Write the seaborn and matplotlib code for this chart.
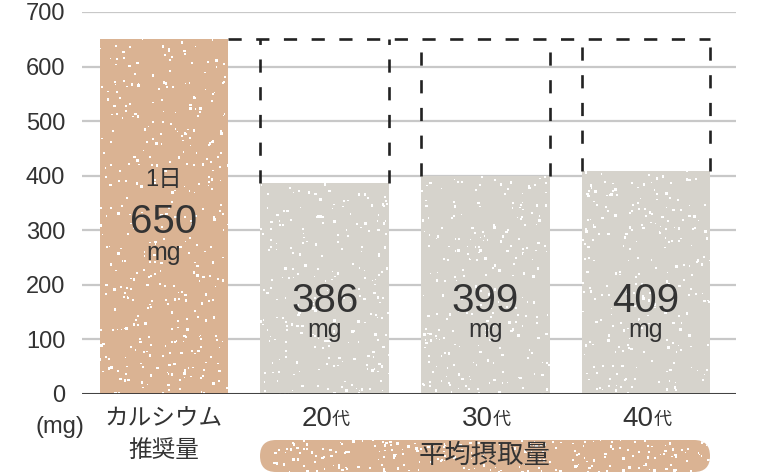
import numpy as np
import pandas as pd
import matplotlib
matplotlib.use("Agg")
import matplotlib.pyplot as plt
import seaborn as sns
from matplotlib.patches import FancyBboxPatch

# data
categories = ["カルシウム\n推奨量", "20代", "30代", "40代"]
values = [650, 386, 399, 409]
recommended = 650
bar_colors = ["#dab393", "#d6d3cc", "#d6d3cc", "#d6d3cc"]
yticks = [0, 100, 200, 300, 400, 500, 600, 700]

df = pd.DataFrame({"cat": categories, "mg": values})

sns.set_theme(style="white")
plt.rcParams["font.family"] = ["Liberation Sans", "Noto Sans CJK JP", "DejaVu Sans"]
txt = "#333333"

fig = plt.figure(figsize=(7.62, 4.74), dpi=100)
ax = fig.add_axes([82 / 762, 80 / 474, 654 / 762, 382 / 474])

sns.barplot(data=df, x="cat", y="mg", hue="cat", palette=bar_colors,
            saturation=1, width=0.8, legend=False, ax=ax, zorder=2, linewidth=0)

ax.set_ylim(0, 700)
ax.set_xlim(-0.51, 3.56)
ax.set_yticks(yticks)
ax.set_yticklabels([str(t) for t in yticks], fontsize=17, color=txt)
ax.tick_params(axis="y", length=0, pad=12)
ax.set_xticks([])
ax.set_xlabel("")
ax.set_ylabel("")
for s in ax.spines.values():
    s.set_visible(False)
ax.yaxis.grid(True, color="#c8c8c8", linewidth=1.6, zorder=0)
ax.set_axisbelow(True)
ax.axhline(0, color="#333333", linewidth=2, zorder=3)

# speckle texture on bars
rng = np.random.default_rng(3)
for p in ax.patches:
    x0, w, h = p.get_x(), p.get_width(), p.get_height()
    n = int(h * 0.6)
    px = x0 + rng.random(n) * w
    py = rng.random(n) * h
    sc = ax.scatter(px, py, s=rng.random(n) * 3 + 0.6, marker="s",
                    color="white", linewidths=0, zorder=2.5)
    sc.set_clip_path(p)

# dashed recommended outlines
bars = ax.patches
dash = (0, (5, 5.5))
right_end = bars[-1].get_x() + bars[-1].get_width()
ax.plot([bars[0].get_x() + bars[0].get_width(), right_end],
        [recommended, recommended], color="#222222", lw=1.9, ls=dash, zorder=4)
for p in bars[1:]:
    for xe in (p.get_x(), p.get_x() + p.get_width()):
        ax.plot([xe, xe], [p.get_height(), recommended], color="#222222",
                lw=1.9, ls=dash, zorder=4)

# labels inside bars
ax.text(0, 392, "1日", ha="center", va="center", fontsize=17, color=txt, zorder=5)
ax.text(0, 315, "650", ha="center", va="center", fontsize=29, color=txt, zorder=5)
ax.text(0, 259, "mg", ha="center", va="center", fontsize=18, color=txt, zorder=5)
for i, v in enumerate(values[1:], start=1):
    ax.text(i, 170, str(v), ha="center", va="center", fontsize=29, color=txt, zorder=5)
    ax.text(i, 117, "mg", ha="center", va="center", fontsize=18, color=txt, zorder=5)

# x labels
trans = ax.get_xaxis_transform()
ax.text(0, -0.066, "カルシウム", ha="center", va="center", fontsize=17,
        color=txt, transform=trans)
ax.text(0, -0.15, "推奨量", ha="center", va="center", fontsize=17,
        color=txt, transform=trans)
for i, c in enumerate(categories[1:], start=1):
    t = ax.text(i - 0.05, -0.066, c[:-1], ha="center", va="center",
                fontsize=20, color=txt, transform=trans)
    ax.annotate(c[-1], xy=(1, 0.12), xycoords=t, ha="left", va="bottom",
                fontsize=13, color=txt)
ax.text(-0.034, -0.086, "(mg)", ha="center", va="center", fontsize=17,
        color=txt, transform=ax.transAxes)

# pill below age groups
ov = fig.add_axes([0, 0, 1, 1], zorder=-1)
ov.set_xlim(0, 762)
ov.set_ylim(0, 474)
ov.axis("off")
pill = FancyBboxPatch((260, 2), 450, 32, boxstyle="round,pad=0,rounding_size=16",
                      facecolor="#dab393", edgecolor="none")
ov.add_patch(pill)
n = 220
sc = ov.scatter(260 + rng.random(n) * 450, 2 + rng.random(n) * 32,
                s=rng.random(n) * 3 + 0.6, marker="s", color="white", linewidths=0)
sc.set_clip_path(pill)
ov.text(485, 18, "平均摂取量", ha="center", va="center", fontsize=19, color=txt)

fig.savefig("out.png", dpi=100)
